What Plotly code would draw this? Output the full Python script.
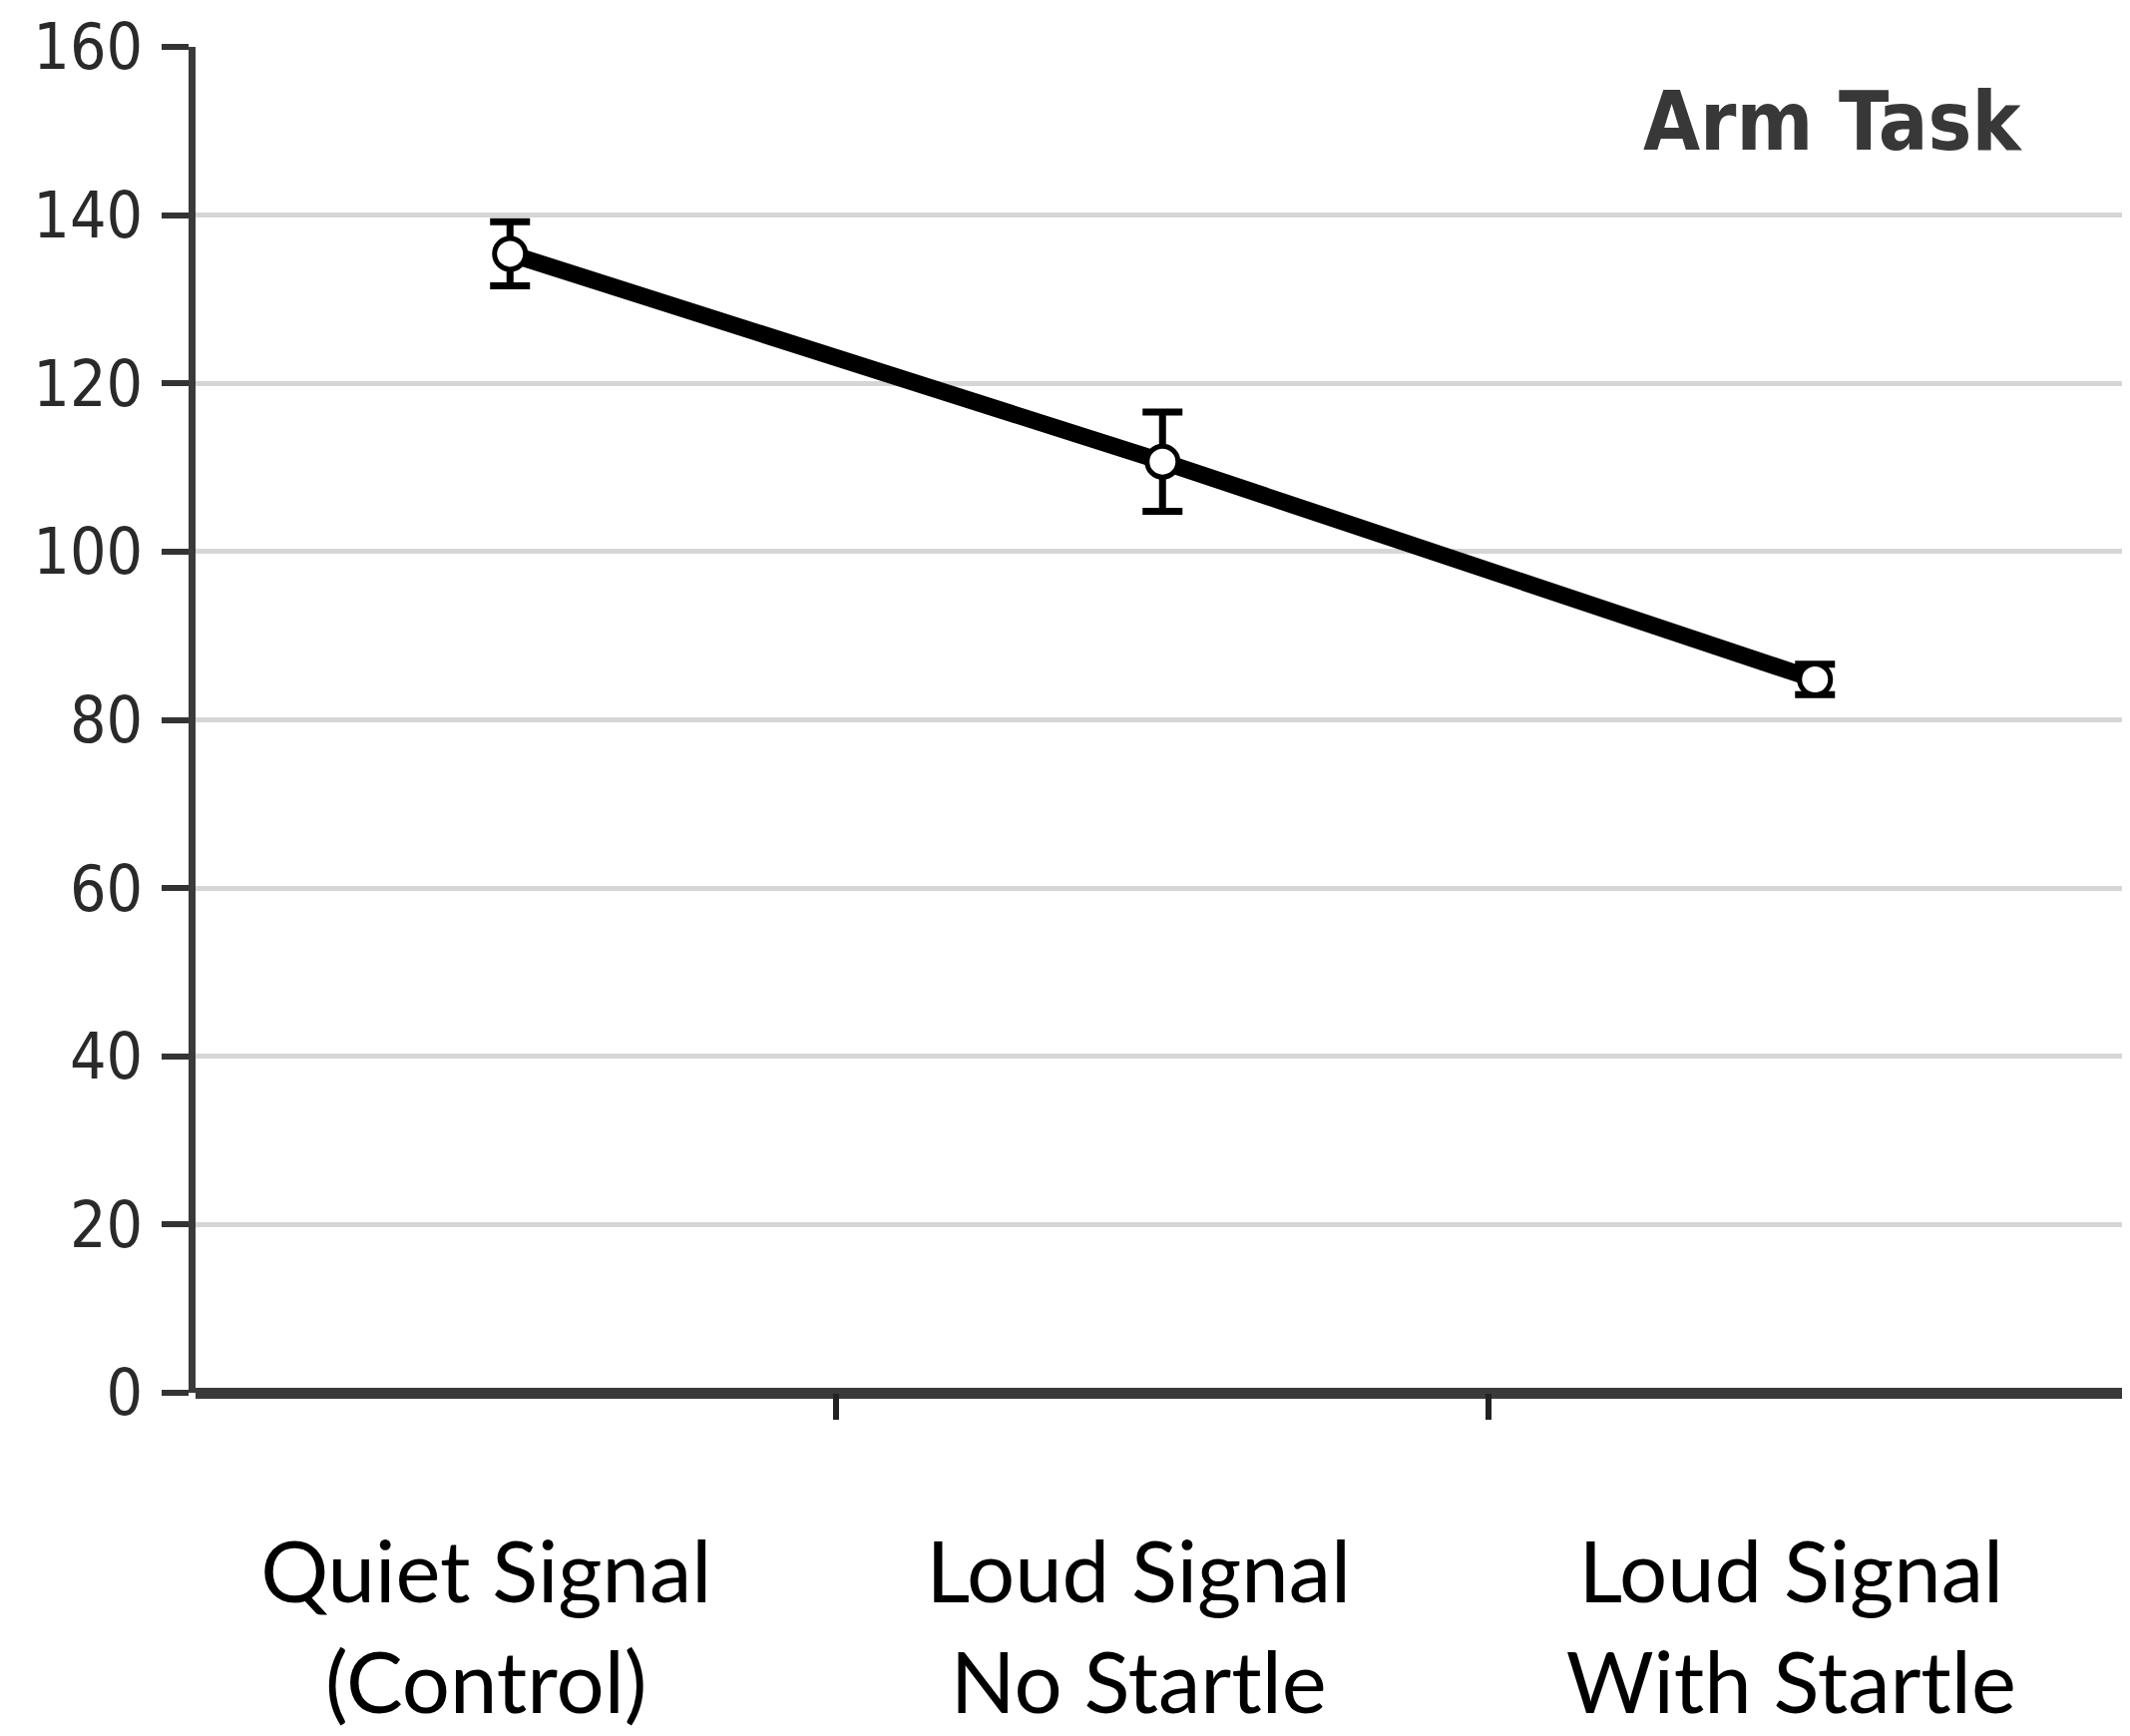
import plotly.graph_objects as go

categories = ["Quiet Signal<br>(Control)", "Loud Signal<br>No Startle", "Loud Signal<br>With Startle"]
values = [135.4, 110.7, 84.8]
errors = [3.8, 5.9, 1.8]
y_ticks = [0, 20, 40, 60, 80, 100, 120, 140, 160]

fig = go.Figure()
fig.add_trace(go.Scatter(
    x=categories, y=values,
    mode="lines+markers",
    line=dict(color="black", width=17),
    marker=dict(symbol="circle", size=31, color="white", line=dict(color="black", width=5)),
    error_y=dict(type="data", array=errors, visible=True, color="black", thickness=7, width=20),
    showlegend=False,
))

fig.update_layout(
    width=2135, height=1740,
    margin=dict(l=188, r=0, t=39, b=352, autoexpand=False),
    paper_bgcolor="white", plot_bgcolor="white",
    font=dict(family="DejaVu Sans", color="#333333"),
    xaxis=dict(
        type="category",
        range=[-0.482, 2.495],
        tickson="boundaries",
        ticks="outside", ticklen=26, tickwidth=6, tickcolor="#222222",
        showline=False,
        showgrid=False,
        tickfont=dict(family="Lato", size=85, color="black"),
        ticklabelstandoff=124,
        ticklabelshift=-24,
        automargin=False,
    ),
    yaxis=dict(
        range=[0, 160],
        tickvals=y_ticks,
        ticks="outside", ticklen=27, tickwidth=6, tickcolor="#333333",
        showline=True, linecolor="#3a3a3a", linewidth=7,
        showgrid=True, gridcolor="#d6d6d6", gridwidth=5,
        zeroline=True, zerolinecolor="#3a3a3a", zerolinewidth=11,
        tickfont=dict(family="DejaVu Sans Condensed", size=64, color="#2a2a2a"),
        ticklabelstandoff=6,
        automargin=False,
    ),
    annotations=[dict(
        text="<b>Arm Task</b>", xref="paper", yref="paper", x=0.843, y=0.945,
        xanchor="center", yanchor="middle", showarrow=False,
        font=dict(family="DejaVu Sans Condensed", size=82, color="#383838"),
    )],
)

fig.write_html("out.html")
